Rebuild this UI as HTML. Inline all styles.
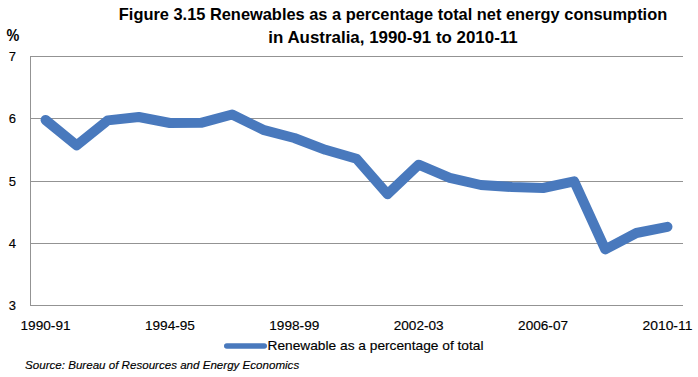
<!DOCTYPE html>
<html><head><meta charset="utf-8"><style>
html,body{margin:0;padding:0;background:#fff;}
svg{display:block;}
text{font-family:"Liberation Sans", sans-serif;fill:#000;}
.r{stroke:#000;stroke-width:0.15;}
</style></head><body>
<svg width="698" height="377" viewBox="0 0 698 377">
<line x1="30" y1="56.5" x2="683" y2="56.5" stroke="#939393" stroke-width="1"/>
<line x1="30" y1="118.5" x2="683" y2="118.5" stroke="#939393" stroke-width="1"/>
<line x1="30" y1="181.5" x2="683" y2="181.5" stroke="#939393" stroke-width="1"/>
<line x1="30" y1="243.5" x2="683" y2="243.5" stroke="#939393" stroke-width="1"/>
<line x1="30" y1="305.5" x2="683" y2="305.5" stroke="#939393" stroke-width="1"/>
<line x1="30.5" y1="56" x2="30.5" y2="306" stroke="#939393" stroke-width="1"/>
<polyline points="45.55,120.00 76.64,145.30 107.74,120.40 138.83,117.00 169.93,123.00 201.02,122.80 232.12,114.50 263.21,129.80 294.31,138.00 325.40,149.80 356.50,158.70 387.60,194.20 418.69,164.70 449.79,177.80 480.88,185.00 511.98,187.00 543.07,188.00 574.17,181.30 605.26,249.40 636.36,233.00 667.45,226.80" fill="none" stroke="#4979bd" stroke-width="10" stroke-linejoin="round" stroke-linecap="round"/>
<text class="r" x="16.0" y="61.0" text-anchor="end" font-size="13">7</text>
<text class="r" x="16.0" y="123.0" text-anchor="end" font-size="13">6</text>
<text class="r" x="16.0" y="186.0" text-anchor="end" font-size="13">5</text>
<text class="r" x="16.0" y="248.0" text-anchor="end" font-size="13">4</text>
<text class="r" x="16.0" y="310.0" text-anchor="end" font-size="13">3</text>
<text id="x0" class="r" x="45.55" y="330" text-anchor="middle" font-size="13.3" textLength="50.00" lengthAdjust="spacingAndGlyphs">1990-91</text>
<text id="x4" class="r" x="169.93" y="330" text-anchor="middle" font-size="13.3" textLength="50.00" lengthAdjust="spacingAndGlyphs">1994-95</text>
<text id="x8" class="r" x="294.31" y="330" text-anchor="middle" font-size="13.3" textLength="50.00" lengthAdjust="spacingAndGlyphs">1998-99</text>
<text id="x12" class="r" x="418.69" y="330" text-anchor="middle" font-size="13.3" textLength="50.00" lengthAdjust="spacingAndGlyphs">2002-03</text>
<text id="x16" class="r" x="543.07" y="330" text-anchor="middle" font-size="13.3" textLength="50.00" lengthAdjust="spacingAndGlyphs">2006-07</text>
<text id="x20" class="r" x="667.45" y="330" text-anchor="middle" font-size="13.3" textLength="50.00" lengthAdjust="spacingAndGlyphs">2010-11</text>
<text id="t1" x="393" y="20" text-anchor="middle" font-size="16.4" font-weight="bold">Figure 3.15 Renewables as a percentage total net energy consumption</text>
<text id="t2" x="393" y="42.5" text-anchor="middle" font-size="16.4" font-weight="bold" textLength="249.40" lengthAdjust="spacingAndGlyphs">in Australia, 1990-91 to 2010-11</text>
<text transform="translate(6.6,41) scale(0.96,1.15)" font-size="15" font-weight="bold">%</text>
<line x1="226.8" y1="346" x2="264.2" y2="346" stroke="#4979bd" stroke-width="5.6" stroke-linecap="round"/>
<text id="leg" class="r" x="267.5" y="350" font-size="13.6" textLength="216.00" lengthAdjust="spacingAndGlyphs">Renewable as a percentage of total</text>
<text id="src" class="r" x="25.1" y="368.8" font-size="11.5" font-style="italic" textLength="274.10" lengthAdjust="spacingAndGlyphs">Source: Bureau of Resources and Energy Economics</text>
</svg>
</body></html>
